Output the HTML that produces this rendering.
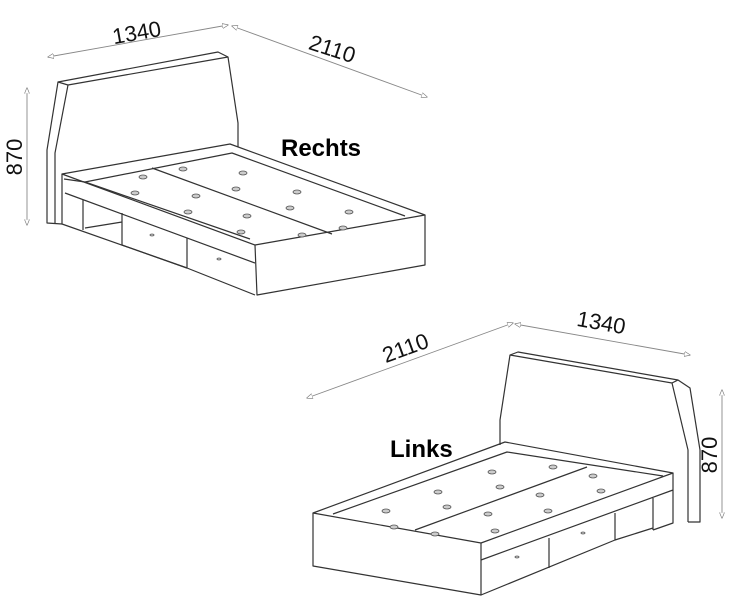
<!DOCTYPE html>
<html><head><style>
html,body{margin:0;padding:0;background:#fff;}
svg{display:block;}
text{font-family:"Liberation Sans",sans-serif;}
</style></head><body>
<svg width="741" height="600" viewBox="0 0 741 600" xmlns="http://www.w3.org/2000/svg">
<defs>
<marker id="a" viewBox="0 0 10 10" refX="9" refY="5" markerWidth="7" markerHeight="7" orient="auto-start-reverse"><path d="M0,1 L10,5 L0,9 Z" fill="#fff" stroke="#777" stroke-width="1"/></marker>
</defs>
<g stroke="#888" stroke-width="0.9" fill="none">
<line x1="48" y1="57" x2="228" y2="25" marker-start="url(#a)" marker-end="url(#a)"/>
<line x1="232" y1="26" x2="427" y2="97" marker-start="url(#a)" marker-end="url(#a)"/>
<line x1="27" y1="88" x2="27" y2="225" marker-start="url(#a)" marker-end="url(#a)"/>
<line x1="307" y1="398" x2="513" y2="323" marker-start="url(#a)" marker-end="url(#a)"/>
<line x1="515" y1="324" x2="690" y2="355" marker-start="url(#a)" marker-end="url(#a)"/>
<line x1="722" y1="390" x2="722" y2="518" marker-start="url(#a)" marker-end="url(#a)"/>
</g>
<g fill="#111" font-size="22">
<text transform="translate(138,40) rotate(-10)" text-anchor="middle">1340</text>
<text transform="translate(330,56) rotate(18)" text-anchor="middle">2110</text>
<text transform="translate(22,157) rotate(-90)" text-anchor="middle">870</text>
<text transform="translate(408,355) rotate(-20)" text-anchor="middle">2110</text>
<text transform="translate(600,330) rotate(10)" text-anchor="middle">1340</text>
<text transform="translate(717,455) rotate(-90)" text-anchor="middle">870</text>
</g>
<g fill="#000" font-size="24" font-weight="bold">
<text x="281" y="156">Rechts</text>
<text x="390" y="457">Links</text>
</g>
<g stroke="#333" stroke-width="1.2" fill="none" stroke-linejoin="round">
<path d="M62,224 L47,223 L47,150 L58,82 L218,52 L228,57 L238,123 L238,147"/>
<path d="M58,82 L68,85 L228,57"/>
<path d="M68,85 L55,153 L55,223"/>
<path d="M62,174 L230,144 L425,215 L255,245 Z"/>
<path d="M64,179 L85,182 L232,153 L405,216"/>
<path d="M85,182 L250,239"/>
<path d="M152,168 L332,234"/>
<path d="M255,245 L257,295 L425,265 L425,215"/>
<path d="M62,174 L62,224 L187,268"/>
<path d="M65,193 L255,263"/>
<path d="M83,200 L83,230 M85,228 L122,222 M122,213 L122,245 L187,268 L255,295 M187,238 L187,268"/>
<path d="M500,445 L500,420 L510,355 L518,352 L678,380 L690,388 L700,450 L700,522 L688,522"/>
<path d="M510,355 L672,383 L688,450 L688,522"/>
<path d="M672,383 L678,380"/>
<path d="M313,513 L505,442 L673,473 L481,543 Z"/>
<path d="M333,514 L507,452 L663,476"/>
<path d="M587,467 L415,530"/>
<path d="M313,513 L313,566 L481,595 L481,543"/>
<path d="M481,560 L673,490 M673,473 L673,523 L653,530"/>
<path d="M549,538 L549,568 M481,595 L615,540 L615,513 M615,540 L653,528 M653,498 L653,530"/>
</g>
<g fill="#ccc" stroke="#555" stroke-width="0.8">
<ellipse cx="143" cy="177" rx="4" ry="2"/><ellipse cx="183" cy="169" rx="4" ry="2"/><ellipse cx="243" cy="173" rx="4" ry="2"/>
<ellipse cx="135" cy="193" rx="4" ry="2"/><ellipse cx="196" cy="196" rx="4" ry="2"/><ellipse cx="236" cy="189" rx="4" ry="2"/>
<ellipse cx="297" cy="192" rx="4" ry="2"/><ellipse cx="188" cy="212" rx="4" ry="2"/><ellipse cx="247" cy="216" rx="4" ry="2"/>
<ellipse cx="290" cy="208" rx="4" ry="2"/><ellipse cx="349" cy="212" rx="4" ry="2"/><ellipse cx="241" cy="232" rx="4" ry="2"/>
<ellipse cx="302" cy="235" rx="4" ry="2"/><ellipse cx="343" cy="228" rx="4" ry="2"/>
<ellipse cx="492" cy="472" rx="4" ry="2"/><ellipse cx="553" cy="467" rx="4" ry="2"/><ellipse cx="593" cy="476" rx="4" ry="2"/>
<ellipse cx="438" cy="492" rx="4" ry="2"/><ellipse cx="500" cy="487" rx="4" ry="2"/><ellipse cx="540" cy="495" rx="4" ry="2"/>
<ellipse cx="601" cy="491" rx="4" ry="2"/><ellipse cx="386" cy="511" rx="4" ry="2"/><ellipse cx="447" cy="507" rx="4" ry="2"/>
<ellipse cx="488" cy="514" rx="4" ry="2"/><ellipse cx="548" cy="511" rx="4" ry="2"/><ellipse cx="394" cy="527" rx="4" ry="2"/>
<ellipse cx="435" cy="534" rx="4" ry="2"/><ellipse cx="495" cy="531" rx="4" ry="2"/>
<ellipse cx="152" cy="235" rx="2" ry="1"/><ellipse cx="219" cy="259" rx="2" ry="1"/>
<ellipse cx="517" cy="557" rx="2" ry="1"/><ellipse cx="583" cy="533" rx="2" ry="1"/>
</g>
</svg>
</body></html>
